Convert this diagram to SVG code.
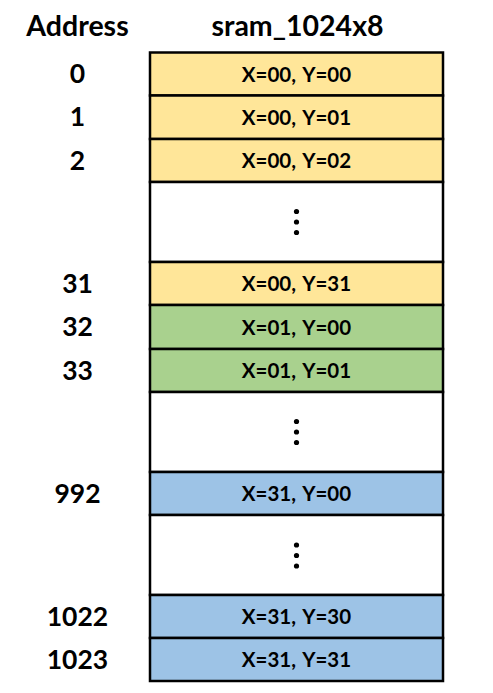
<svg xmlns="http://www.w3.org/2000/svg" width="493" height="693" viewBox="0 0 493 693">
<style>
.cell{stroke:#000;stroke-width:2.5}
.y{fill:#FFE699}
.g{fill:#A9D18E}
.b{fill:#9DC3E6}
.w{fill:#FFFFFF}
.t{font-family:Lato,"Liberation Sans",sans-serif;font-weight:bold;font-size:20.5px;text-anchor:middle;fill:#000;word-spacing:2px}
.a{font-family:Lato,"Liberation Sans",sans-serif;font-weight:bold;font-size:26.5px;text-anchor:middle;fill:#000}
.h{font-family:Lato,"Liberation Sans",sans-serif;font-weight:bold;font-size:28.5px;text-anchor:middle;fill:#000}
.d{fill:#000}
</style>
<rect width="493" height="693" fill="#fff"/>
<g id="headers">
<text class="h" x="77.5" y="36">Address</text>
<text class="h" x="297.5" y="36">sram_1024x8</text>
</g>
<g id="row0"><rect class="cell y" x="150" y="52.5" width="293" height="43"/><text class="t" x="296.5" y="81.5">X=00, Y=00</text><text class="a" x="77.5" y="83">0</text></g>
<g id="row1"><rect class="cell y" x="150" y="95.5" width="293" height="43.5"/><text class="t" x="296.5" y="124.5">X=00, Y=01</text><text class="a" x="77.5" y="126">1</text></g>
<g id="row2"><rect class="cell y" x="150" y="139" width="293" height="43"/><text class="t" x="296.5" y="168">X=00, Y=02</text><text class="a" x="77.5" y="169.5">2</text></g>
<g id="gap1"><rect class="cell w" x="150" y="182" width="293" height="80"/><circle class="d" cx="296.5" cy="211.5" r="2.6"/><circle class="d" cx="296.5" cy="222" r="2.6"/><circle class="d" cx="296.5" cy="232.5" r="2.6"/></g>
<g id="row31"><rect class="cell y" x="150" y="262" width="293" height="43"/><text class="t" x="296.5" y="291">X=00, Y=31</text><text class="a" x="77.5" y="292.5">31</text></g>
<g id="row32"><rect class="cell g" x="150" y="305" width="293" height="44"/><text class="t" x="296.5" y="334.5">X=01, Y=00</text><text class="a" x="77.5" y="336">32</text></g>
<g id="row33"><rect class="cell g" x="150" y="349" width="293" height="43"/><text class="t" x="296.5" y="378">X=01, Y=01</text><text class="a" x="77.5" y="379.5">33</text></g>
<g id="gap2"><rect class="cell w" x="150" y="392" width="293" height="80"/><circle class="d" cx="296.5" cy="421.5" r="2.6"/><circle class="d" cx="296.5" cy="432" r="2.6"/><circle class="d" cx="296.5" cy="442.5" r="2.6"/></g>
<g id="row992"><rect class="cell b" x="150" y="472" width="293" height="43"/><text class="t" x="296.5" y="501">X=31, Y=00</text><text class="a" x="77.5" y="502.5">992</text></g>
<g id="gap3"><rect class="cell w" x="150" y="515" width="293" height="80"/><circle class="d" cx="296.5" cy="545" r="2.6"/><circle class="d" cx="296.5" cy="555.5" r="2.6"/><circle class="d" cx="296.5" cy="566" r="2.6"/></g>
<g id="row1022"><rect class="cell b" x="150" y="595" width="293" height="43"/><text class="t" x="296.5" y="624">X=31, Y=30</text><text class="a" x="77.5" y="625.5">1022</text></g>
<g id="row1023"><rect class="cell b" x="150" y="638" width="293" height="43"/><text class="t" x="296.5" y="667">X=31, Y=31</text><text class="a" x="77.5" y="668.5">1023</text></g>
<g id="connectors"/>
</svg>
